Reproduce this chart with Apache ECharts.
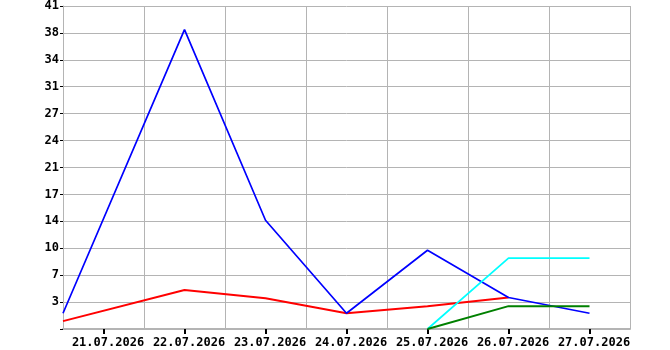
<!DOCTYPE html>
<html>
<head>
<meta charset="utf-8">
<script src="https://cdn.jsdelivr.net/npm/echarts@6/dist/echarts.min.js"></script>
<style>
html,body{margin:0;padding:0;background:#fff;}
#chart{width:670px;height:350px;}
</style>
</head>
<body>
<div id="chart"></div>
<script>
// Category (day) labels
const dayLabels = ['21.07.2026','22.07.2026','23.07.2026','24.07.2026','25.07.2026','26.07.2026','27.07.2026'];
// Y tick labels (for ticks 0 .. 41 in 12 steps)
const yTickLabels = ['', '3', '7', '10', '14', '17', '21', '24', '27', '31', '34', '38', '41'];
const yMax = 41;

// Series: x in day units (21.07 = 1), y values
const blueX = [0.5, 2, 3, 4, 5, 6, 7];
const blueY = [2, 38, 13.8, 2, 10, 4, 2];
const redX = [0.5, 2, 3, 4, 5, 6];
const redY = [1, 4.95, 3.9, 2, 2.9, 4];
const cyanX = [5, 6, 7];
const cyanY = [0, 9, 9];
const greenX = [5, 6, 7];
const greenY = [0, 2.9, 2.9];

function pairs(xs, ys){ return xs.map((x,i)=>[x, ys[i]]); }

const font = 'DejaVu Sans Mono';
const gridColor = '#b4b4b4';

const chart = echarts.init(document.getElementById('chart'), null, {renderer:'canvas'});
chart.setOption({
  animation: false,
  backgroundColor: '#ffffff',
  grid: {left: 63, right: 40, top: 5, bottom: 21, containLabel: false},
  xAxis: [
    {
      type: 'category',
      data: dayLabels,
      boundaryGap: true,
      axisLine: {show: true, lineStyle: {color: gridColor, width: 2}},
      axisTick: {show: true, interval: 0, alignWithLabel: true, length: 5, lineStyle: {color: '#000', width: 2}},
      axisLabel: {show: true, interval: 0, color: '#000', fontFamily: font, fontWeight: 'bold', fontSize: 12, margin: 8, padding: [0,0,0,9]},
      splitLine: {show: true, interval: 0, lineStyle: {color: gridColor, width: 1}}
    },
    {
      type: 'value',
      min: 0.5, max: 7.5,
      show: false,
      axisLine: {show: false}, axisTick: {show: false}, axisLabel: {show: false}, splitLine: {show: false}
    }
  ],
  yAxis: {
    type: 'value',
    min: 0, max: yMax, interval: yMax / 12,
    axisLine: {show: true, lineStyle: {color: gridColor, width: 1}},
    axisTick: {show: true, length: 3, lineStyle: {color: '#000', width: 1}},
    axisLabel: {
      color: '#000', fontFamily: font, fontWeight: 'bold', fontSize: 12, margin: 4,
      formatter: function(v, i){ return yTickLabels[i] !== undefined ? yTickLabels[i] : String(Math.round(v)); }
    },
    splitLine: {show: true, lineStyle: {color: gridColor, width: 1}}
  },
  series: [
    {type: 'line', xAxisIndex: 1, data: pairs(redX, redY), symbol: 'none', lineStyle: {color: '#ff0000', width: 2}},
    {type: 'line', xAxisIndex: 1, data: pairs(blueX, blueY), symbol: 'none', lineStyle: {color: '#0000ff', width: 1.7}},
    {type: 'line', xAxisIndex: 1, data: pairs(cyanX, cyanY), symbol: 'none', lineStyle: {color: '#00ffff', width: 1.7}},
    {type: 'line', xAxisIndex: 1, data: pairs(greenX, greenY), symbol: 'none', lineStyle: {color: '#008000', width: 2}}
  ]
});
</script>
</body>
</html>
